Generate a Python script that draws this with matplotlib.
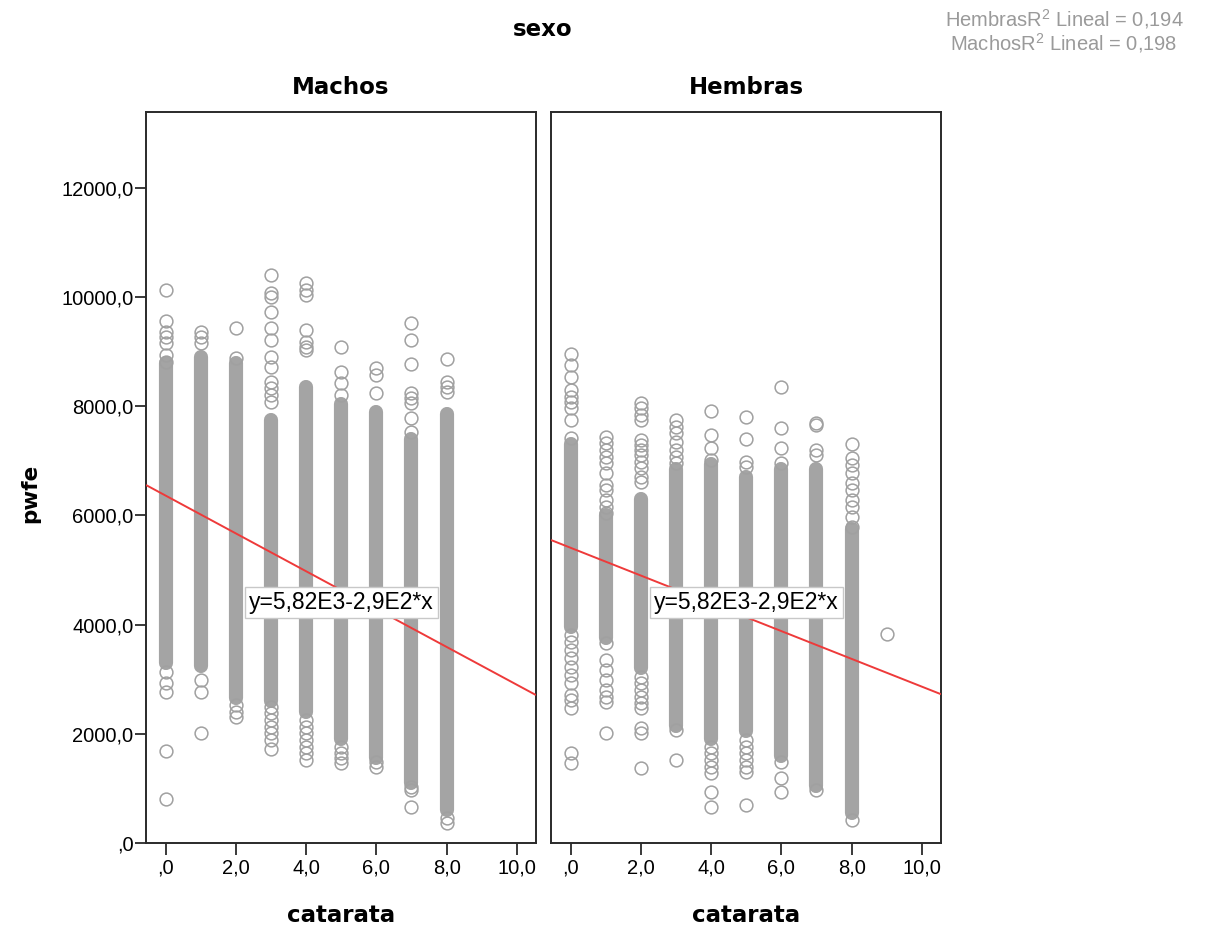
import matplotlib
matplotlib.use('Agg')
import matplotlib.pyplot as plt
from matplotlib.ticker import FuncFormatter, FixedLocator

# --- pwfe by catarata, one panel per sexo ---
panels = ['Machos', 'Hembras']

# sparse observations (catarata, pwfe)
machos_cat = [0] * 12 + [1] * 6 + [2] * 5 + [3] * 19 + [4] * 14 + [5] * 8 + [6] * 5 + [7] * 11 + [8] * 6
machos_pwfe = [10130, 9560, 9360, 9270, 9160, 8940, 8810, 3130, 2930, 2770, 1685, 806,
               9360, 9270, 9160, 2990, 2770, 2015,
               9430, 8885, 2530, 2400, 2310,
               10405, 10075, 10000, 9730, 9435, 9215, 8905, 8720, 8445, 8335, 8210, 8080,
               2490, 2380, 2250, 2125, 2015, 1890, 1720,
               10260, 10130, 10040, 9400, 9180, 9090, 9030, 2250, 2125, 2015, 1890, 1760, 1650, 1520,
               9090, 8630, 8430, 8210, 1760, 1650, 1560, 1465,
               8700, 8575, 8245, 1480, 1400,
               9530, 9215, 8775, 8245, 8150, 8060, 7790, 7530, 1030, 970, 660,
               8865, 8445, 8355, 8260, 460, 365]

hembras_cat = [0] * 21 + [1] * 19 + [2] * 21 + [3] * 9 + [4] * 11 + [5] * 11 + [6] * 7 + [7] * 5 + [8] * 11 + [9]
hembras_pwfe = [8960, 8760, 8540, 8300, 8170, 8080, 7970, 7750, 7420,
                3810, 3680, 3535, 3390, 3225, 3080, 2930, 2710, 2620, 2470, 1650, 1465,
                7440, 7330, 7200, 7070, 6960, 6780, 6560, 6470, 6280, 6155, 6045,
                3660, 3350, 3170, 2990, 2800, 2675, 2580, 2015,
                8060, 7970, 7840, 7750, 7380, 7290, 7200, 7110, 6980, 6870, 6700, 6610,
                3040, 2930, 2800, 2675, 2565, 2470, 2105, 2015, 1375,
                7750, 7620, 7510, 7345, 7200, 7070, 6960, 2070, 1520,
                7915, 7475, 7235, 7015, 1760, 1650, 1520, 1390, 1280, 935, 660,
                7800, 7400, 6980, 6890, 1890, 1760, 1650, 1520, 1390, 1300, 700,
                8355, 7600, 7235, 6960, 1485, 1190, 935,
                7695, 7660, 7200, 7110, 970,
                7310, 7055, 6925, 6780, 6595, 6470, 6280, 6155, 5970, 5790, 420,
                3830]

# pwfe range where the circles of a catarata column overlap completely
band_cat = [0, 1, 2, 3, 4, 5, 6, 7, 8]
machos_lo = [3300, 3250, 2650, 2600, 2400, 1900, 1550, 1100, 600]
machos_hi = [8800, 8900, 8800, 7750, 8350, 8050, 7900, 7400, 7850]
hembras_lo = [3950, 3750, 3200, 2150, 1900, 2050, 1600, 1050, 550]
hembras_hi = [7300, 6000, 6300, 6850, 6950, 6700, 6850, 6850, 5750]

# linear fit per panel
fit_intercept = [6360, 5405]
fit_slope = [-346, -254]
fit_label = 'y=5,82E3-2,9E2*x'
r2_hembras = '0,194'
r2_machos = '0,198'

x_ticks = [0, 2, 4, 6, 8, 10]
y_ticks = [0, 2000, 4000, 6000, 8000, 10000, 12000]
xlim = (-0.57, 10.55)
ylim = (0, 13390)

pts_cat = [machos_cat, hembras_cat]
pts_val = [machos_pwfe, hembras_pwfe]
lo_val = [machos_lo, hembras_lo]
hi_val = [machos_hi, hembras_hi]

grey = '#a0a0a0'
frame = '#2a2a2a'
bold = {'family': 'DejaVu Sans', 'weight': 'bold', 'size': 16.5}
plt.rcParams['font.family'] = 'Liberation Sans'


def spss_num(v, pos=None):
    s = f'{v:.1f}'.replace('.', ',')
    return s[1:] if s.startswith('0') else s


fig = plt.figure(figsize=(12.06, 9.34), dpi=100)
lefts = [146 / 1206, 551 / 1206]
w = 390 / 1206
b = 91 / 934
h = 731 / 934

for i, name in enumerate(panels):
    ax = fig.add_axes([lefts[i], b, w, h])
    ax.set_xlim(*xlim)
    ax.set_ylim(*ylim)

    # solid runs of overlapping circles
    ax.vlines(band_cat, lo_val[i], hi_val[i], color='#a4a4a4', linewidth=10.2,
              capstyle='round', zorder=2)
    ax.plot(pts_cat[i], pts_val[i], 'o', ms=9.2, mfc='none', mec=grey, mew=1.1,
            zorder=3)

    xs = [xlim[0], xlim[1]]
    ax.plot(xs, [fit_intercept[i] + fit_slope[i] * x for x in xs],
            color='#ee3a3a', linewidth=1.4, zorder=4, solid_capstyle='butt')
    ax.text(5, 4400, fit_label, ha='center', va='center', fontsize=16.5,
            zorder=5, bbox=dict(boxstyle='square,pad=0.18', fc='white',
                                ec='#c8c8c8', lw=1.0))

    for s in ax.spines.values():
        s.set_color(frame)
        s.set_linewidth(1.4)
    ax.xaxis.set_major_locator(FixedLocator(x_ticks))
    ax.xaxis.set_major_formatter(FuncFormatter(spss_num))
    ax.tick_params(axis='x', direction='out', length=8.5, width=1.3,
                   color=frame, labelsize=14.5, pad=3)
    if i == 0:
        ax.yaxis.set_major_locator(FixedLocator(y_ticks))
        ax.yaxis.set_major_formatter(FuncFormatter(spss_num))
        ax.tick_params(axis='y', direction='out', length=8, width=1.3,
                       color=frame, labelsize=14.5, pad=1)
    else:
        ax.set_yticks([])

    cx = lefts[i] + w / 2
    fig.text(cx, 1 - 87 / 934, name, ha='center', va='center', fontdict=bold)
    fig.text(cx, 1 - 915 / 934, 'catarata', ha='center', va='center', fontdict=bold)

fig.text(543 / 1206, 1 - 30 / 934, 'sexo', ha='center', va='center', fontdict=bold)
fig.text(30 / 1206, 1 - 493 / 934, 'pwfe', ha='center', va='center', rotation=90,
         fontdict=dict(bold, size=15.5))

fig.text(1064 / 1206, 1 - 19 / 934, 'Hembras$\\mathregular{R^2}$ Lineal = ' + r2_hembras,
         ha='center', va='center', fontsize=14.5, color='#9a9a9a')
fig.text(1064 / 1206, 1 - 43 / 934, 'Machos$\\mathregular{R^2}$ Lineal = ' + r2_machos,
         ha='center', va='center', fontsize=14.5, color='#9a9a9a')

fig.savefig('out.png', dpi=100)
